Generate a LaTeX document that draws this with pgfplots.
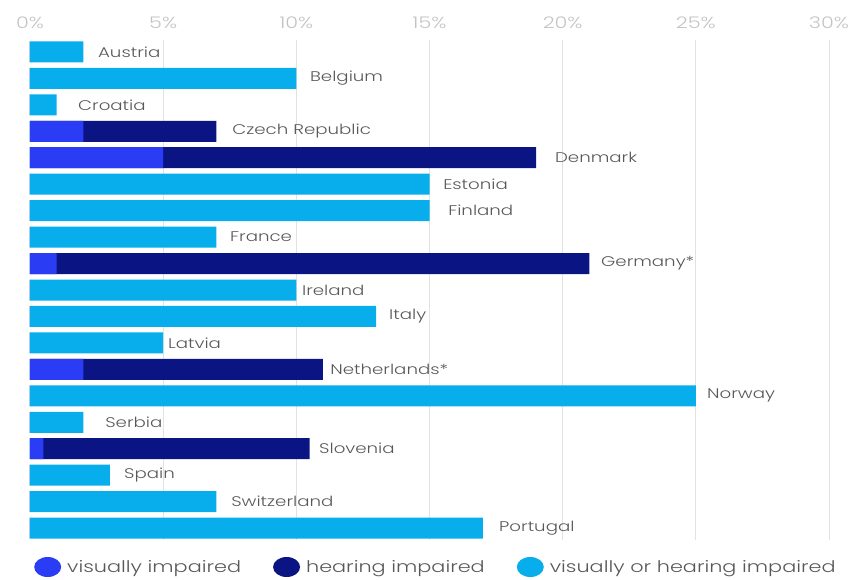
\documentclass[border=0pt]{standalone}
\usepackage{pgfplots}
\pgfplotsset{compat=1.18}
\usepackage{pgfplotstable}
\usepackage{fontspec}
\setmainfont{Poppins}[FakeStretch=1.3, UprightFont={* Light}]
\definecolor{visc}{HTML}{2B3CF5}
\definecolor{hearc}{HTML}{0B1483}
\definecolor{anyc}{HTML}{08ADEB}
\definecolor{labc}{HTML}{585858}
\definecolor{tickc}{HTML}{C4C4C4}
\definecolor{gridc}{HTML}{E2E2E2}
\pgfplotstableread{
idx name vis hear vorh labx
0 Austria 0 0 2 2.55
1 Belgium 0 0 10 10.51
2 Croatia 0 0 1 1.80
3 {Czech Republic} 2 5 0 7.59
4 Denmark 5 14 0 19.71
5 Estonia 0 0 15 15.51
6 Finland 0 0 15 15.70
7 France 0 0 7 7.51
8 Germany* 1 20 0 21.44
9 Ireland 0 0 10 10.21
10 Italy 0 0 13 13.48
11 Latvia 0 0 5 5.18
12 Netherlands* 2 9 0 11.27
13 Norway 0 0 25 25.42
14 Serbia 0 0 2 2.82
15 Slovenia 0.5 10 0 10.85
16 Spain 0 0 3 3.53
17 Switzerland 0 0 7 7.55
18 Portugal 0 0 17 17.61
}\data
\begin{document}
\begin{tikzpicture}
\begin{axis}[
  name=ax,
  scale only axis,
  width=799pt, height=500pt,
  xmin=0, xmax=30,
  ymin=-0.45, ymax=18.45,
  y dir=reverse,
  axis line style={draw=none},
  major tick length=0pt,
  ytick=\empty,
  xtick={0,5,...,30},
  xticklabel pos=top,
  xticklabel={\pgfmathprintnumber{\tick}\%},
  /pgf/number format/assume math mode=true,
  xticklabel style={font=\fontsize{16}{18}\selectfont, text=tickc, yshift=8pt},
  extra x ticks={5,10,...,30},
  extra x tick labels={},
  extra x tick style={grid=major},
  major grid style={draw=gridc, line width=0.8pt},
  clip=false,
  legend columns=3,
  legend image code/.code={\fill[#1] (13.5pt,0pt) ellipse [x radius=13.5pt, y radius=10pt]; \path (31pt,0pt);},
  legend cell align=left,
  legend style={at={(axis description cs:0,0)}, anchor=west, yshift=-27pt, xshift=4pt,
    draw=none, fill=none, inner sep=0pt,
    font=\fontsize{16}{18}\selectfont, text=labc,
    /tikz/every even column/.append style={column sep=30pt}},
]
\addplot[xbar, bar width=21pt, bar shift=0pt, fill=hearc, draw=none, forget plot]
  table[x expr=\thisrow{vis}+\thisrow{hear}, y=idx] {\data};
\addplot[xbar, bar width=21pt, bar shift=0pt, fill=visc, draw=none, forget plot]
  table[x=vis, y=idx] {\data};
\addplot[xbar, bar width=21pt, bar shift=0pt, fill=anyc, draw=none, forget plot]
  table[x=vorh, y=idx] {\data};
\addplot[only marks, mark=none, forget plot, nodes near coords, point meta=explicit symbolic,
  nodes near coords style={anchor=west, inner sep=0pt, font=\fontsize{14}{16}\selectfont, text=labc}]
  table[x=labx, y=idx, meta=name] {\data};
\addlegendimage{fill=visc, draw=none}
\addlegendentry{visually impaired}
\addlegendimage{fill=hearc, draw=none}
\addlegendentry{hearing impaired}
\addlegendimage{fill=anyc, draw=none}
\addlegendentry{visually or hearing impaired}
\end{axis}
\pgfresetboundingbox
\path (ax.south west) ++(-30pt,-39pt) rectangle ++(860pt,579pt);
\end{tikzpicture}
\end{document}
